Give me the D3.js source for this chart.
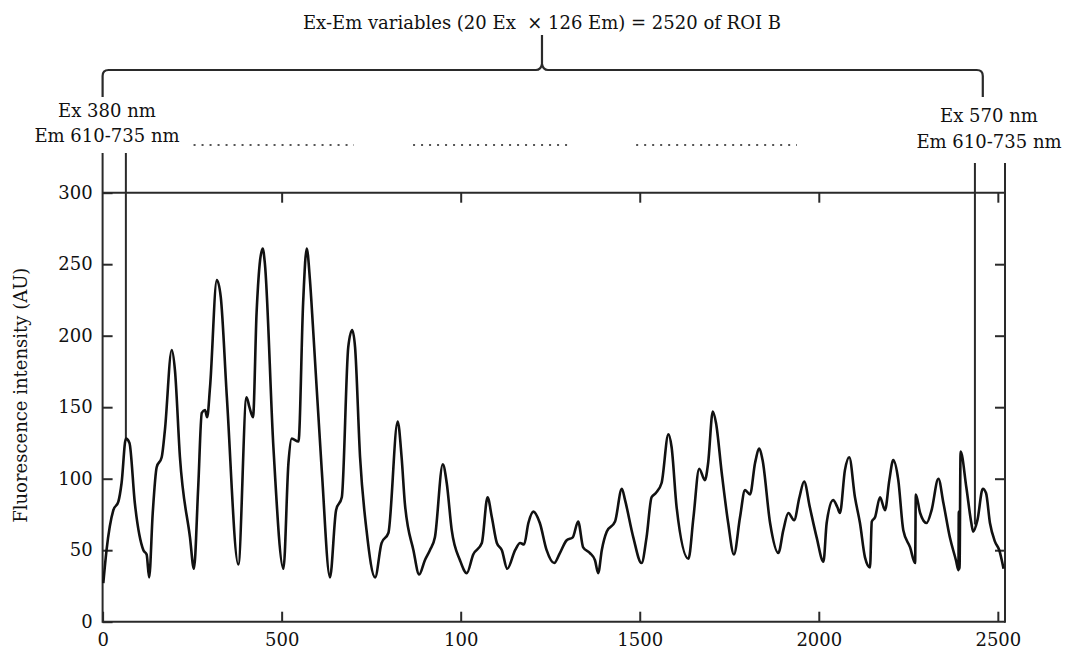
<!DOCTYPE html>
<html>
<head>
<meta charset="utf-8">
<script src="https://cdn.jsdelivr.net/npm/d3@7"></script>
<style>
  body { margin: 0; background: #fff; }
  svg text { font-family: "DejaVu Serif", "Liberation Serif", serif; fill: #111; }
</style>
</head>
<body>
<svg id="chart" width="1066" height="652"></svg>
<script>
// excitation-emission variable index (x) and fluorescence intensity (y)
var sampleIndex = [
  2, 11, 30, 44, 53, 65, 75, 90, 114, 123, 130, 140, 151, 165, 174, 193, 202, 216, 244, 255,
  267, 277, 286, 292, 300, 319, 330, 347, 379, 402, 410, 420, 430, 447, 453, 477, 505, 519, 528, 547,
  560, 570, 579, 588, 612, 635, 652, 668, 686, 697, 705, 719, 737, 761, 779, 798, 824, 835, 844, 868,
  884, 900, 914, 928, 950, 961, 975, 998, 1017, 1035, 1059, 1075, 1087, 1101, 1115, 1130, 1152, 1166, 1177, 1189,
  1203, 1221, 1240, 1261, 1277, 1296, 1313, 1328, 1342, 1361, 1375, 1384, 1394, 1408, 1431, 1450, 1459, 1482, 1505, 1519,
  1533, 1545, 1561, 1580, 1589, 1603, 1636, 1650, 1666, 1682, 1691, 1704, 1713, 1729, 1747, 1763, 1780, 1794, 1808, 1822,
  1834, 1843, 1864, 1887, 1901, 1915, 1931, 1946, 1959, 1975, 1994, 2013, 2022, 2040, 2052, 2059, 2073, 2085, 2101, 2115,
  2129, 2143, 2148, 2157, 2171, 2185, 2197, 2208, 2222, 2236, 2255, 2269, 2271, 2283, 2301, 2315, 2334, 2348, 2366, 2383,
  2390, 2391, 2393, 2396, 2412, 2426, 2431, 2443, 2458, 2467, 2478, 2492, 2504, 2516
];
var intensity = [
  27, 50, 78, 84, 97, 128, 125, 83, 50, 47, 31, 76, 108, 115, 134, 190, 176, 115, 59, 37,
  94, 146, 148, 143, 164, 239, 227, 157, 40, 157, 150, 143, 216, 261, 251, 122, 37, 111, 128, 126,
  223, 261, 239, 204, 106, 31, 78, 87, 192, 204, 192, 115, 64, 31, 55, 62, 140, 115, 83, 50,
  33, 43, 50, 59, 110, 97, 64, 43, 34, 47, 55, 87, 73, 55, 50, 37, 50, 55, 54, 69,
  77, 69, 50, 41, 48, 57, 59, 70, 52, 48, 43, 34, 50, 63, 70, 93, 85, 59, 41, 59,
  87, 90, 97, 131, 122, 80, 44, 73, 107, 99, 111, 147, 139, 104, 69, 47, 73, 92, 89, 111,
  121, 113, 69, 48, 64, 76, 71, 87, 98, 80, 59, 42, 69, 85, 80, 76, 106, 115, 87, 69,
  45, 38, 70, 73, 87, 78, 99, 113, 99, 64, 52, 41, 89, 76, 69, 78, 100, 83, 59, 43,
  36, 77, 37, 119, 94, 69, 63, 71, 93, 90, 69, 56, 50, 37
];

var xTickValues = [0, 500, 1000, 1500, 2000, 2500];
var xTickLabels = ["0", "500", "100", "1500", "2000", "2500"];
var yTickValues = [0, 50, 100, 150, 200, 250, 300];
var yTickLabels = ["0", "50", "100", "150", "200", "250", "300"];

// annotation positions, in variable index units
var markerLines = [
  { x: 65, topPx: 153, endValue: 128 },
  { x: 2436, topPx: 163, endValue: 68 }
];
var dottedRuns = [[254, 702], [867, 1313], [1490, 1939]];
var braceSpan = [0, 2458];
var braceMid = 1227;

var svg = d3.select("#chart");
var fontSize = 18;
var serif = "'DejaVu Serif', 'Liberation Serif', serif";

var x = d3.scaleLinear().domain([0, 2520]).range([102.6, 1005]);
var y = d3.scaleLinear().domain([0, 300]).range([621.7, 192.7]);

var tickLen = 10;
var frameColor = "#2a2a2a";

// axes with inward ticks
var bottomAxis = svg.append("g")
  .attr("transform", "translate(0," + y(0) + ")")
  .call(d3.axisBottom(x).tickValues(xTickValues).tickSize(-tickLen).tickPadding(12)
    .tickFormat(function (d, i) { return xTickLabels[i]; }));

var topAxis = svg.append("g")
  .attr("transform", "translate(0," + y(300) + ")")
  .call(d3.axisTop(x).tickValues(xTickValues.slice(1)).tickSize(-tickLen).tickFormat(""));

var leftAxis = svg.append("g")
  .attr("transform", "translate(" + x(0) + ",0)")
  .call(d3.axisLeft(y).tickValues(yTickValues).tickSize(-tickLen).tickPadding(10)
    .tickFormat(function (d, i) { return yTickLabels[i]; }));

var rightAxis = svg.append("g")
  .attr("transform", "translate(" + x(2520) + ",0)")
  .call(d3.axisRight(y).tickValues(yTickValues.slice(1, -1)).tickSize(-tickLen).tickFormat(""));

[bottomAxis, topAxis, leftAxis, rightAxis].forEach(function (g) {
  g.attr("font-family", serif).attr("font-size", fontSize);
  g.select(".domain").remove();
  g.selectAll(".tick line").attr("stroke", frameColor).attr("stroke-width", 2);
  g.selectAll(".tick text")
    .style("font-family", serif)
    .attr("font-size", fontSize)
    .attr("fill", "#111");
});

// frame lines (left and right sides run up past the 300 line)
var frame = svg.append("g")
  .attr("stroke", frameColor)
  .attr("stroke-width", 2)
  .attr("fill", "none");
frame.append("line").attr("x1", x(0)).attr("x2", x(2520)).attr("y1", y(0)).attr("y2", y(0));
frame.append("line").attr("x1", x(0)).attr("x2", x(2520)).attr("y1", y(300)).attr("y2", y(300));
frame.append("line").attr("x1", x(0)).attr("x2", x(0)).attr("y1", y(0) + 1).attr("y2", 153);
frame.append("line").attr("x1", x(2520)).attr("x2", x(2520)).attr("y1", y(0) + 1).attr("y2", 163);

// marker lines for the first and last Ex block
frame.selectAll(".marker")
  .data(markerLines)
  .enter()
  .append("line")
  .attr("class", "marker")
  .attr("x1", function (d) { return x(d.x); })
  .attr("x2", function (d) { return x(d.x); })
  .attr("y1", function (d) { return d.topPx; })
  .attr("y2", function (d) { return y(d.endValue); });

// the spectrum
var line = d3.line()
  .x(function (d, i) { return x(sampleIndex[i]); })
  .y(function (d) { return y(d); })
  .curve(d3.curveMonotoneX);

svg.append("path")
  .datum(intensity)
  .attr("d", line)
  .attr("fill", "none")
  .attr("stroke", "#111")
  .attr("stroke-width", 2.6)
  .attr("stroke-linejoin", "round");

// y-axis title
svg.append("text")
  .attr("transform", "translate(27," + (y(150) - 12) + ") rotate(-90)")
  .attr("text-anchor", "middle")
  .attr("font-size", fontSize)
  .text("Fluorescence intensity (AU)");

// curly brace over the whole range
var bx0 = x(braceSpan[0]), bx1 = x(braceSpan[1]), bm = x(braceMid);
var bTop = 70, bEnd = 97, bTip = 35;
var bracePath = d3.path();
bracePath.moveTo(bx0, bEnd);
bracePath.lineTo(bx0, bTop + 6);
bracePath.quadraticCurveTo(bx0, bTop, bx0 + 6, bTop);
bracePath.lineTo(bm - 6, bTop);
bracePath.quadraticCurveTo(bm - 1, bTop, bm, bTop - 6);
bracePath.lineTo(bm, bTip);
bracePath.moveTo(bm, bTop - 6);
bracePath.quadraticCurveTo(bm + 1, bTop, bm + 6, bTop);
bracePath.lineTo(bx1 - 6, bTop);
bracePath.quadraticCurveTo(bx1, bTop, bx1, bTop + 6);
bracePath.lineTo(bx1, bEnd);

svg.append("path")
  .attr("d", bracePath.toString())
  .attr("fill", "none")
  .attr("stroke", frameColor)
  .attr("stroke-width", 2.2);

svg.append("text")
  .attr("x", bm)
  .attr("y", 29)
  .attr("text-anchor", "middle")
  .attr("font-size", fontSize)
  .attr("xml:space", "preserve")
  .text("Ex-Em variables (20 Ex  \u00d7 126 Em) = 2520 of ROI B");

// dotted runs standing for the middle Ex blocks
svg.append("g")
  .selectAll("line")
  .data(dottedRuns)
  .enter()
  .append("line")
  .attr("x1", function (d) { return x(d[0]); })
  .attr("x2", function (d) { return x(d[1]); })
  .attr("y1", 145)
  .attr("y2", 145)
  .attr("stroke", "#555")
  .attr("stroke-width", 2)
  .attr("stroke-dasharray", "2 6");

// end labels
var endLabels = [
  { cx: 107, lines: ["Ex 380 nm", "Em 610-735 nm"], ys: [117, 142] },
  { cx: 989, lines: ["Ex 570 nm", "Em 610-735 nm"], ys: [122, 148] }
];
endLabels.forEach(function (lab) {
  lab.lines.forEach(function (t, i) {
    svg.append("text")
      .attr("x", lab.cx)
      .attr("y", lab.ys[i])
      .attr("text-anchor", "middle")
      .attr("font-size", fontSize)
      .text(t);
  });
});
</script>
</body>
</html>
